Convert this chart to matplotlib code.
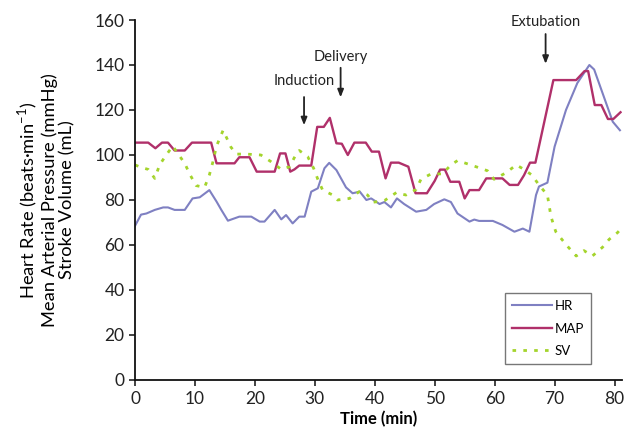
import matplotlib
matplotlib.use("Agg")
import matplotlib.pyplot as plt

plt.rcParams['font.family'] = ['Lato', 'DejaVu Sans']

# Heart rate (beats/min)
hr_t = [0, 1, 1.9, 3.3, 4.7, 5.5, 6.6, 8.3, 9.6, 10.8, 12.4, 13.6, 14.4, 15.5, 17.4, 19.4,
        20.8, 21.6, 23.3, 24.4, 25.2, 26.3, 27.4, 28.3, 29.4, 30.5, 31.6, 32.4, 33.6, 35.2,
        36.3, 37.5, 38.6, 39.4, 40.2, 40.8, 41.6, 42.7, 43.7, 44.9, 46.9, 48.6, 49.9, 51.6,
        52.7, 53.8, 55.8, 56.6, 57.4, 59.7, 61.3, 63.3, 64.7, 65.8, 66.9, 67.4, 68.8, 70,
        71.9, 73.8, 75.8, 76.6, 79.7, 80.9]
hr_v = [68.5, 73.5, 74, 75.6, 76.7, 76.7, 75.6, 75.6, 80.7, 81.2, 84.4, 79.3, 75.6, 70.8, 72.6, 72.6,
        70.4, 70.4, 75.6, 71.4, 73.3, 69.6, 72.6, 72.6, 83.7, 85.2, 94.1, 96.5, 93.3, 85.6,
        83, 83.7, 80, 80.7, 79.3, 78.2, 79.1, 76.7, 80.7, 78.2, 74.8, 75.6, 78.2, 80.3,
        79.1, 74, 70.4, 71.3, 70.7, 70.7, 68.9, 65.9, 67.3, 65.9, 82.2, 86, 87.7, 103.7,
        120, 132, 140, 138, 114.8, 111]

# Mean arterial pressure (mmHg)
map_t = [0, 2.2, 3.4, 4.5, 5.5, 6.6, 8.3, 9.5, 12.7, 13.6, 16.6, 17.4, 19.1, 20.3, 23.3,
         24.2, 25.1, 25.9, 26.6, 27.4, 29.4, 30.4, 31.5, 32.5, 33.6, 34.5, 35.5, 36.6, 38.5,
         39.5, 40.7, 41.8, 42.7, 44, 45.6, 46.8, 48.7, 50, 50.9, 51.7, 52.6, 54.1, 55, 55.8,
         57.4, 58.6, 61.3, 62.5, 63.9, 64.9, 65.9, 66.8, 69.8, 73.6, 75, 75.6, 76.7, 77.8,
         78.9, 79.8, 81]
map_v = [105.5, 105.5, 103, 105.5, 105.5, 102, 102, 105.5, 105.5, 96.3, 96.3, 99, 99, 92.6, 92.6,
         100.7, 100.7, 92.6, 93.6, 95.3, 95.3, 112.5, 112.5, 116.5, 105.2, 105, 100, 105.5, 105.5,
         101.5, 101.5, 89.6, 96.6, 96.6, 94.8, 83, 83, 88.5, 93.5, 93.5, 88.1, 88.1, 80.7, 84.4,
         84.4, 89.6, 89.6, 86.7, 86.7, 91, 96.6, 96.6, 133.3, 133.3, 137.3, 137.3, 122.2, 122.2,
         116, 116, 119]

# Stroke volume (mL)
sv_t = [0, 1, 2.2, 3.3, 4.1, 5.1, 6.3, 7.2, 8.3, 9.1, 10.2, 11.6, 12.4, 13, 13.6, 14.7, 16,
        16.9, 18.6, 21, 22.7, 24.4, 25.8, 26.9, 27.4, 28.8, 29.8, 30.5, 31.3, 33, 33.8, 35.8,
        37.4, 38.8, 39.7, 41.6, 43.6, 45.2, 46.9, 47.7, 49.4, 51.3, 52.7, 53.8, 55.2, 57.2,
        58.8, 59.9, 61.9, 63.6, 64.9, 66.2, 67.4, 68.8, 69.4, 70.2, 71.3, 72.2, 73.6, 74.9,
        76.3, 78, 79.1, 80.5, 81]
sv_v = [95.6, 94.5, 93.6, 89.6, 95.6, 99.6, 104, 100.4, 96.3, 91.6, 86.4, 85.6, 91.1, 97, 104, 111, 103.5,
        100.4, 100.4, 100, 97, 93.6, 94.8, 100.5, 102, 99.3, 94.1, 89.2, 84.4, 82.2, 80, 80.7,
        83.7, 82.2, 79, 79.7, 83.3, 82.2, 84.7, 89.2, 91.6, 91.6, 95.6, 97.5, 96.3, 94.5,
        93, 89.2, 92.1, 95.6, 93.6, 91.1, 86.7, 82.2, 72.6, 65.9, 62.2, 59.3, 55.1, 57.5,
        55.1, 59, 62.5, 65.5, 67]

events = ["Induction", "Delivery", "Extubation"]
event_t = [28.2, 34.3, 68.5]
event_tip = [112, 124.4, 139.3]
event_top = [127, 140, 155]
event_text_y = [133, 143.5, 159]

x_ticks = [0, 10, 20, 30, 40, 50, 60, 70, 80]
y_ticks = [0, 20, 40, 60, 80, 100, 120, 140, 160]

HR_C = '#7f80c2'
MAP_C = '#b0306a'
SV_C = '#a4d42c'

fig = plt.figure(figsize=(6.28, 4.32), dpi=100)
ax = fig.add_axes([0.215, 0.1204, 0.775, 0.8333])

ax.plot(hr_t, hr_v, color=HR_C, lw=1.5, label='HR')
ax.plot(map_t, map_v, color=MAP_C, lw=1.7, label='MAP')
ax.plot(sv_t, sv_v, color=SV_C, lw=2.0, dashes=(1.3, 2.6), label='SV')

ax.set_xlim(0, 81.2)
ax.set_ylim(0, 160)
ax.set_xticks(x_ticks)
ax.set_yticks(y_ticks)
for s in ['top', 'right']:
    ax.spines[s].set_visible(False)
for s in ['left', 'bottom']:
    ax.spines[s].set_linewidth(1.3)
    ax.spines[s].set_color('#111111')
ax.tick_params(axis='both', direction='out', length=4, width=1.2, labelsize=12.5, colors='#222222')
ax.tick_params(axis='x', pad=4)

ax.set_xlabel('Time (min)', fontsize=12, fontweight='bold', labelpad=3)
ax.set_ylabel('Heart Rate (beats\u00b7min$^{\\mathregular{-1}}$)\nMean Arterial Pressure (mmHg)\nStroke Volume (mL)',
              fontsize=13.2, linespacing=1.1, labelpad=14)

for name, t, tip, top, ty in zip(events, event_t, event_tip, event_top, event_text_y):
    ax.annotate('', xy=(t, tip), xytext=(t, top),
                arrowprops=dict(arrowstyle='-|>,head_width=0.18,head_length=0.45', color='#222222', lw=1.3))
    ax.text(t, ty, name, ha='center', va='center', fontsize=10.5, color='#222222')

leg = ax.legend(loc='upper left', bbox_to_anchor=(0.76, 0.2425), frameon=True, fancybox=False,
                fontsize=9.5, handlelength=3.0, borderpad=0.55, labelspacing=0.8, handletextpad=0.2,
                borderaxespad=0)
leg.get_frame().set_edgecolor('#555555')
leg.get_frame().set_linewidth(1.0)

fig.savefig('out.png', dpi=100)
